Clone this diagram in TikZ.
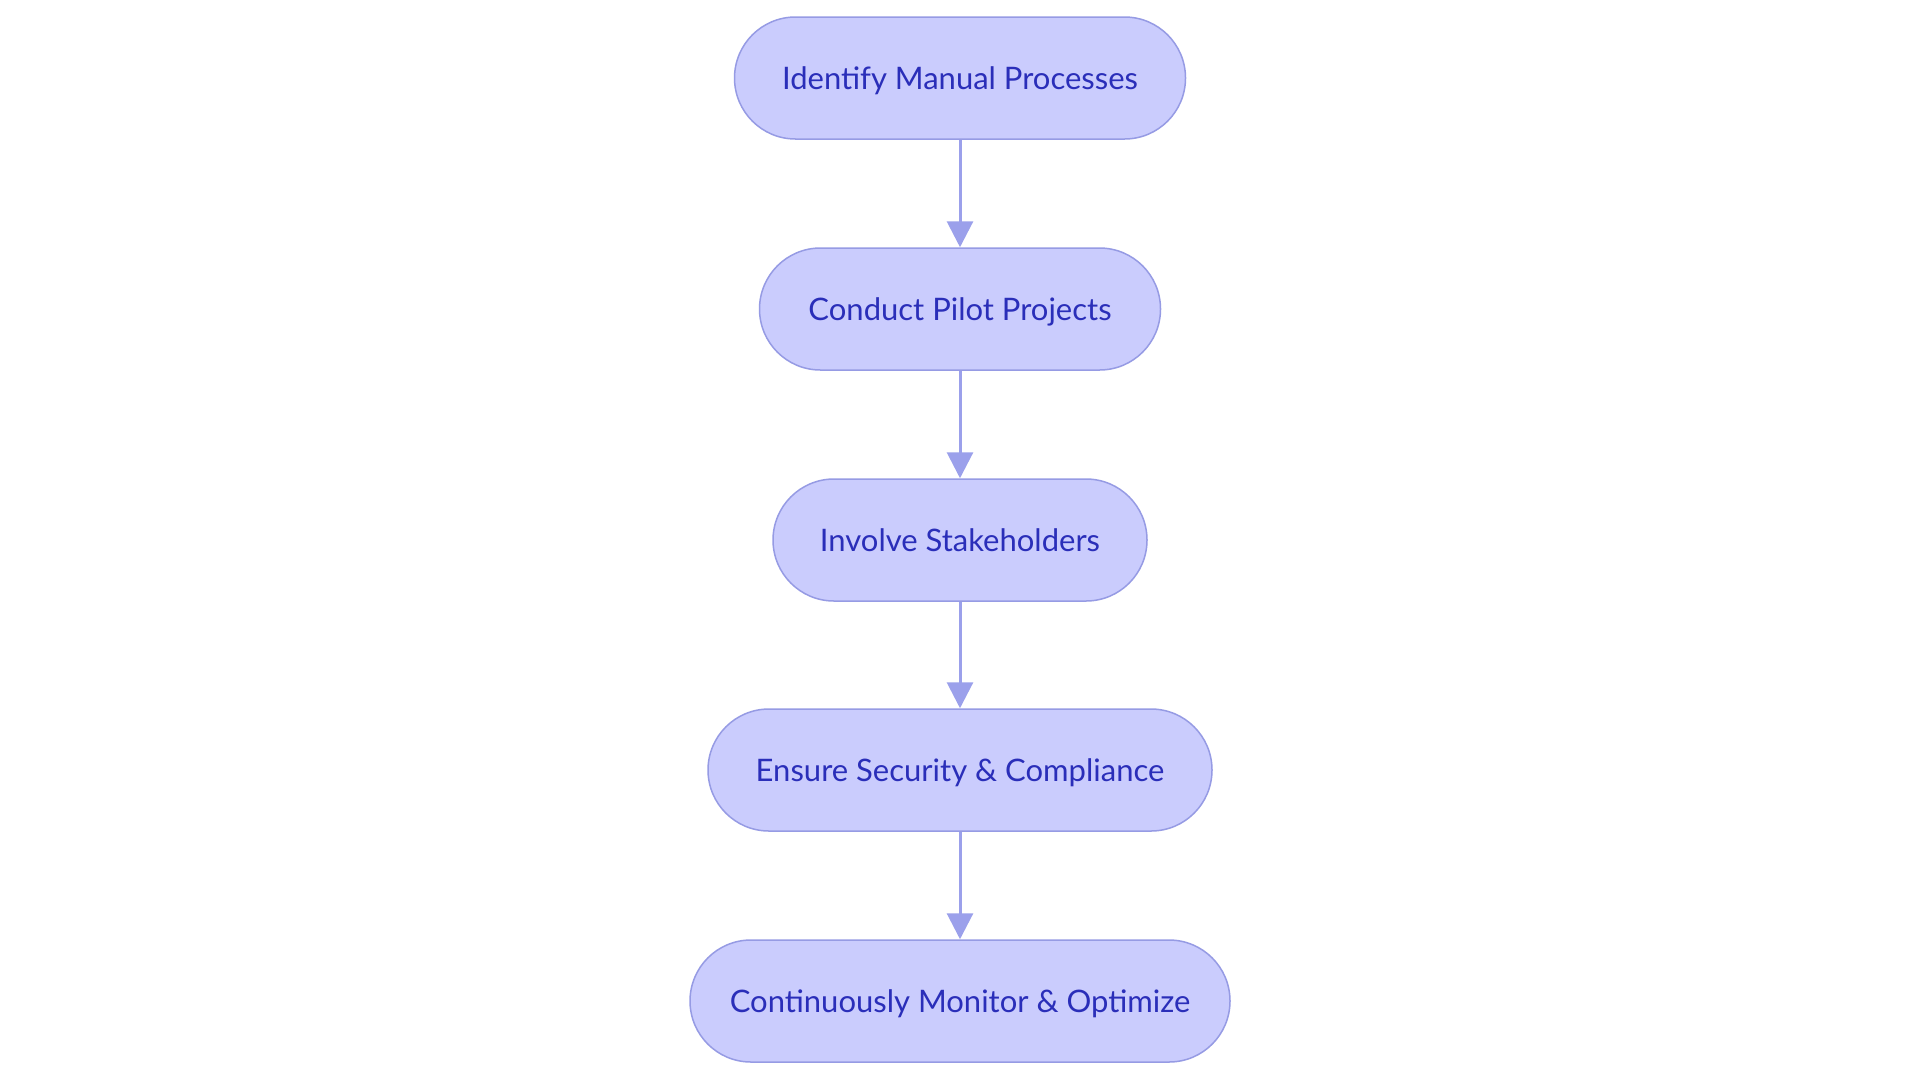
\documentclass[tikz,border=0pt]{standalone}
\usepackage{fontspec}
\setmainfont{Lato}
\usetikzlibrary{arrows.meta}
\definecolor{nodefill}{RGB}{202,204,253}
\definecolor{nodeline}{RGB}{150,155,228}
\definecolor{arrowcol}{RGB}{155,160,235}
\definecolor{textcol}{RGB}{42,46,185}
\tikzset{
  stepbox/.style={draw=nodeline, fill=nodefill, line width=1.5pt, rounded corners=61pt,
    minimum height=122pt, inner sep=0pt, text height=26pt, text depth=4pt,
    text=textcol, font=\fontsize{31}{37}\selectfont},
  flow/.style={draw=arrowcol, line width=3pt, -{Triangle[width=26pt,length=26pt]}}
}
\begin{document}
\begin{tikzpicture}[x=1pt,y=-1pt]
\useasboundingbox[fill=white] (0,0) rectangle (1920,1080);
\node[stepbox, minimum width=451pt] (n1) at (960,78) {Identify Manual Processes};
\node[stepbox, minimum width=401pt] (n2) at (960,309) {Conduct Pilot Projects};
\node[stepbox, minimum width=374pt] (n3) at (960,540) {Involve Stakeholders};
\node[stepbox, minimum width=504pt] (n4) at (960,770) {Ensure Security \& Compliance};
\node[stepbox, minimum width=540pt] (n5) at (960,1001) {Continuously Monitor \& Optimize};
\draw[flow] (n1) -- (n2);
\draw[flow] (n2) -- (n3);
\draw[flow] (n3) -- (n4);
\draw[flow] (n4) -- (n5);
\end{tikzpicture}
\end{document}
